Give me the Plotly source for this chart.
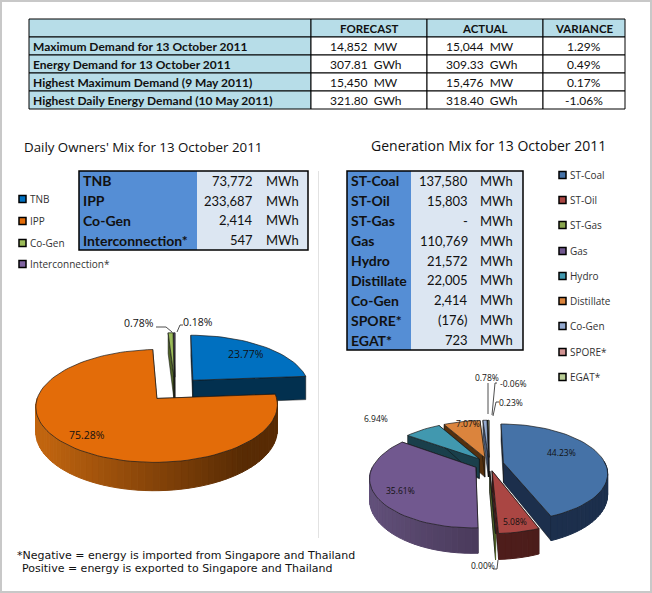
import math
import plotly.graph_objects as go

# ---------- data ----------
summary_header = ["", "FORECAST", "ACTUAL", "VARIANCE"]
summary_rows = ["Maximum Demand for 13 October 2011", "Energy Demand for 13 October 2011",
                "Highest Maximum Demand (9 May 2011)", "Highest Daily Energy Demand (10 May 2011)"]
summary_forecast = ["14,852  MW", "307.81  GWh", "15,450  MW", "321.80  GWh"]
summary_actual = ["15,044  MW", "309.33  GWh", "15,476  MW", "318.40  GWh"]
summary_variance = ["1.29%", "0.49%", "0.17%", "-1.06%"]

owners = ["TNB", "IPP", "Co-Gen", "Interconnection*"]
owners_mwh = [73772, 233687, 2414, 547]
owners_text = ["73,772", "233,687", "2,414", "547"]
owners_pct = ["23.77%", "75.28%", "0.78%", "0.18%"]

gen = ["ST-Coal", "ST-Oil", "ST-Gas", "Gas", "Hydro", "Distillate", "Co-Gen", "SPORE*", "EGAT*"]
gen_mwh = [137580, 15803, 0, 110769, 21572, 22005, 2414, -176, 723]
gen_text = ["137,580", "15,803", "-", "110,769", "21,572", "22,005", "2,414", "(176)", "723"]
gen_pct = ["44.23%", "5.08%", "0.00%", "35.61%", "6.94%", "7.07%", "0.78%", "-0.06%", "0.23%"]

owner_top = ["#0070c0", "#e36c09", "#9bbb59", "#8064a2"]
owner_wall = [("#02304f", "#02304f"), ("#c0640f", "#582b04"), ("#4f6228", "#4f6228"), ("#403152", "#403152")]
gen_top = ["#4572a7", "#aa4643", "#89a54e", "#71588f", "#4198af", "#db843d", "#93a9cf", "#d19392", "#b9cd96"]
gen_wall = [("#1c2f4c", "#1c2f4c"), ("#5a211e", "#4a1c1a"), ("#4f6228", "#4f6228"), ("#62507a", "#3a2c47"),
            ("#1a3f4b", "#1a3f4b"), ("#6a3c12", "#54300e"), ("#4a5a78", "#4a5a78"), ("#6e4a4a", "#6e4a4a"), ("#5f6b4a", "#5f6b4a")]

FT = "Open Sans"      # labels, legends, titles
FB = "Lato"           # tables
INK = "#111111"

fig = go.Figure()
shapes, notes = [], []


def txt(x, y, s, size=11, anchor="left", family=FT, bold=False, color=INK):
    notes.append(dict(x=x, y=y, xref="x", yref="y", text=f"<b>{s}</b>" if bold else s, showarrow=False,
                      xanchor=anchor, yanchor="middle", borderpad=0, align=anchor,
                      font=dict(family=family, size=size, color=color)))


def rect(x0, y0, x1, y1, fill=None, line=None, w=1):
    shapes.append(dict(type="rect", xref="x", yref="y", x0=x0, y0=y0, x1=x1, y1=y1, layer="below",
                       fillcolor=fill if fill else "rgba(0,0,0,0)",
                       line=dict(color=line if line else "rgba(0,0,0,0)", width=w if line else 0)))


def seg(points, color="#111111", w=1):
    fig.add_trace(go.Scatter(x=[p[0] for p in points], y=[p[1] for p in points], mode="lines",
                             line=dict(color=color, width=w), hoverinfo="skip", showlegend=False))


def poly(pts, fill, line=None, w=0.8):
    fig.add_trace(go.Scatter(x=[p[0] for p in pts] + [pts[0][0]], y=[p[1] for p in pts] + [pts[0][1]],
                             mode="lines", fill="toself", fillcolor=fill,
                             line=dict(color=line if line else fill, width=w if line else 1),
                             hoverinfo="skip", showlegend=False))


def lerp(c1, c2, t):
    a = [int(c1[i:i + 2], 16) for i in (1, 3, 5)]
    b = [int(c2[i:i + 2], 16) for i in (1, 3, 5)]
    return "rgb(%d,%d,%d)" % tuple(round(a[i] + (b[i] - a[i]) * t) for i in range(3))


def pie3d(values, tops, walls, cx, cy, a, b, p, h, e):
    vals = [abs(v) for v in values]
    total = sum(vals)

    def proj(u, v, z=0):
        s = 1 / (1 - p * v)
        return (cx + a * u * s, cy + b * v * s + z * h * s)

    slices, ang = [], 0.0
    for i, v in enumerate(vals):
        span = 360 * v / total
        mid = math.radians(ang + span / 2)
        ux, vx = e * math.sin(mid), -e * math.cos(mid)
        slices.append((vx - 0.6 * math.cos(mid), i, ang, ang + span, ux, vx))
        ang += span
    for _, i, t0, t1, ux, vx in sorted(slices):
        n = max(2, int((t1 - t0) / 3) + 2)
        ths = [math.radians(t0 + (t1 - t0) * k / (n - 1)) for k in range(n)]
        rim = [(ux + math.sin(t), vx - math.cos(t)) for t in ths]
        for r in (rim[0], rim[-1]):
            poly([proj(ux, vx), proj(*r), proj(r[0], r[1], 1), proj(ux, vx, 1)], walls[i][1], "#0d0d0d", 0.5)
        for k in range(n - 1):
            r0, r1 = rim[k], rim[k + 1]
            if (r0[1] + r1[1]) / 2 > vx - 0.02:
                t = min(1, max(0, ((r0[0] + r1[0]) / 2 + 1) / 1.5))
                poly([proj(*r0), proj(*r1), proj(r1[0], r1[1], 1), proj(r0[0], r0[1], 1)], lerp(walls[i][0], walls[i][1], t))
        poly([proj(ux, vx)] + [proj(*r) for r in rim], tops[i], "#1a1a1a", 0.7)


# ---------- frame ----------
rect(1, 1, 651, 592, None, "#c8c8c8", 2)
shapes.append(dict(type="line", xref="x", yref="y", x0=318.5, x1=318.5, y0=171, y1=538, layer="below",
                   line=dict(color="#e2e2e2", width=1)))

# ---------- summary table ----------
cols = [29, 311, 427, 543, 625]
R0, RH = 19, 18
for r in range(5):
    y0 = R0 + r * RH
    for c in range(4):
        fill = "#b7dde8" if (r == 0 or c == 0) else "#ffffff"
        rect(cols[c], y0, cols[c + 1], y0 + RH, fill, "#000000", 1)
for c in range(1, 4):
    txt((cols[c] + cols[c + 1]) / 2, R0 + RH / 2, summary_header[c], 11.5, "center", FB, True)
for r in range(4):
    y = R0 + RH * (r + 1.5)
    txt(cols[0] + 3, y, summary_rows[r], 12, "left", FB, True)
    txt(329, y, summary_forecast[r], 12, "left", FB)
    txt(445, y, summary_actual[r], 12, "left", FB)
    txt(584, y, summary_variance[r], 12, "center", FB)

# ---------- titles ----------
txt(143, 147, "Daily Owners' Mix for 13 October 2011", 13.3, "center")
txt(488.5, 145, "Generation Mix for 13 October 2011", 14, "center")

# ---------- side tables ----------
def side_table(names, texts, x0, xs, x1, top, rh, num_r, unit_l):
    rect(xs, top, x1, top + rh * len(names), "#dce6f2")
    rect(x0, top, xs, top + rh * len(names), "#558ed5")
    rect(x0, top, x1, top + rh * len(names), None, "#000000", 1.5)
    for i, (n, t) in enumerate(zip(names, texts)):
        y = top + rh * (i + 0.5)
        txt(x0 + 3, y, n, 14, "left", FB, True)
        txt(num_r, y, t, 13, "right", FB)
        txt(unit_l, y, "MWh", 13, "left", FB)


side_table(owners, owners_text, 79, 197, 308, 171, 19.75, 254, 265)
side_table(gen, gen_text, 347, 411, 523, 171, 19.9, 469, 479)

# ---------- legends ----------
def legend(names, tops, mx, ys, tx):
    for n, col, y in zip(names, tops, ys):
        rect(mx, y - 3.5, mx + 7, y + 3.5, col, "#000000", 1.5)
        txt(tx, y, n, 10, "left", color="#333333")


legend(owners, owner_top, 19, [199, 221, 243, 264], 29)
legend(gen, gen_top, 559, [175, 200, 225, 251, 276, 301, 326, 352, 377], 569)

# ---------- pies ----------
pie3d(owners_mwh, owner_top, owner_wall, 175, 389, 117, 53, 0.13, 24, 0.23)
pie3d(gen_mwh, gen_top, gen_wall, 489, 464, 102, 47, 0.2, 20, 0.145)

# left pie labels
txt(246, 354, owners_pct[0], 10.5, "center")
txt(87, 435, owners_pct[1], 10.5, "center")
txt(139, 323, owners_pct[2], 10.5, "center")
txt(198, 322, owners_pct[3], 10.5, "center")
seg([(156, 327), (166, 327), (172, 332)], "#222222", 0.8)
seg([(183, 325), (180, 325), (177, 332)], "#222222", 0.8)

# right pie labels
lab = [(561, 452), (515, 521), (483, 565), (400, 490), (376, 418), (468, 423), (487, 377), (513, 383), (511, 402)]
for (x, y), s in zip(lab, gen_pct):
    txt(x, y, s, 8.5, "center")
seg([(488, 383), (488, 414)], "#222222", 0.8)
seg([(497, 383), (495, 383), (492, 415)], "#222222", 0.8)
seg([(499, 402), (496, 402), (493, 416)], "#222222", 0.8)
seg([(493, 569), (497, 569), (498, 560)], "#222222", 0.8)

# ---------- footnote ----------
txt(16, 555, "*Negative = energy is imported from Singapore and Thailand", 11, "left", "DejaVu Sans")
txt(21, 568, "Positive = energy is exported to Singapore and Thailand", 11, "left", "DejaVu Sans")

fig.update_layout(
    width=652, height=593, margin=dict(l=0, r=0, t=0, b=0), paper_bgcolor="white", plot_bgcolor="white",
    xaxis=dict(range=[0, 652], visible=False, fixedrange=True),
    yaxis=dict(range=[593, 0], visible=False, fixedrange=True),
    shapes=shapes, annotations=notes, showlegend=False,
)
fig.write_html("out.html", config=dict(displayModeBar=False),
               post_script="document.body.style.margin='0';document.body.style.overflow='hidden';")
